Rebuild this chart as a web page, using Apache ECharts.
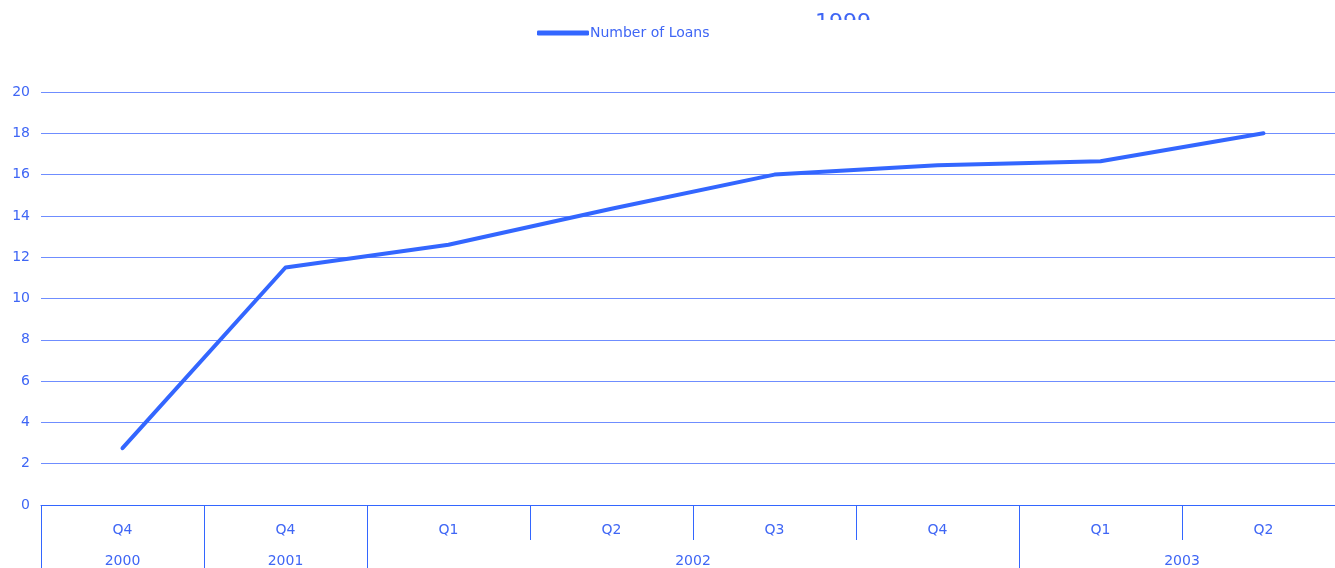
<!DOCTYPE html>
<html>
<head>
<meta charset="utf-8">
<script src="https://cdn.jsdelivr.net/npm/echarts@6/dist/echarts.min.js"></script>
<style>
  html, body { margin: 0; padding: 0; background: #fff; overflow: hidden; }
  /* the plot runs a little past the right edge of the window, as in the original */
  #chart { width: 1345px; height: 568px; }
</style>
</head>
<body>
<div id="chart"></div>
<script>
// data
var quarters = ['Q4', 'Q4', 'Q1', 'Q2', 'Q3', 'Q4', 'Q1', 'Q2']
var loans = [2.75, 11.5, 12.6, 14.35, 16, 16.45, 16.65, 18]
var years = ['2000', '2001', '2002', '2003']
var yearCenters = [0.5, 1.5, 4, 7]      // middle of each year's span of quarters
var yearBounds = [0, 1, 2, 6]           // where each year starts
var yTicks = { min: 0, max: 20, step: 2 }

var textColor = '#3f66f5'
var lineColor = '#3366ff'
var gridColor = '#6f8dff'
var font = 'DejaVu Sans'

var myChart = echarts.init(document.getElementById('chart'))
var option = {
    animation: false,
    textStyle: { fontFamily: font },
    legend: {
        left: 532,
        top: 21,
        data: ['Number of Loans'],
        itemWidth: 52,
        itemHeight: 5,
        icon: 'roundRect',
        textStyle: { color: textColor, fontSize: 14, fontFamily: font, padding: [0, 0, 0, -4] }
    },
    graphic: [
        // the chart's title sits mostly off the top, only its upper edge shows
        { type: 'text', left: 815, top: 12, style: { text: '1999', fill: textColor, font: '22px ' + font } },
        { type: 'rect', shape: { x: 780, y: 20, width: 120, height: 30 }, style: { fill: '#fff' } }
    ],
    grid: { left: 41, right: 0, top: 92, bottom: 63 },
    xAxis: [
        {
            type: 'category',
            position: 'bottom',
            data: quarters,
            axisLine: { show: true, lineStyle: { color: lineColor, width: 1 } },
            axisTick: { show: true, length: 35, interval: 0, lineStyle: { color: lineColor } },
            axisLabel: { color: textColor, fontSize: 14, fontFamily: font, margin: 18, interval: 0 },
            splitLine: { show: false }
        },
        {
            type: 'value',
            position: 'bottom',
            min: 0,
            max: 8,
            axisLine: { show: false },
            axisTick: { show: true, length: 63, customValues: yearBounds, lineStyle: { color: lineColor } },
            axisLabel: {
                color: textColor, fontSize: 14, fontFamily: font, margin: 49,
                customValues: yearCenters,
                formatter: function (v) {
                    var i = yearCenters.indexOf(v)
                    return i >= 0 ? years[i] : ''
                }
            },
            splitLine: { show: false }
        }
    ],
    yAxis: {
        type: 'value',
        min: yTicks.min,
        max: yTicks.max,
        interval: yTicks.step,
        axisLine: { show: false },
        axisTick: { show: false },
        axisLabel: { color: textColor, fontSize: 14, fontFamily: font, margin: 11 },
        splitLine: { show: true, lineStyle: { color: gridColor, width: 1 } }
    },
    series: [
        {
            name: 'Number of Loans',
            type: 'line',
            xAxisIndex: 0,
            data: loans,
            symbol: 'none',
            lineStyle: { color: lineColor, width: 4, cap: 'round', join: 'round' },
            itemStyle: { color: lineColor }
        }
    ]
}
myChart.setOption(option)
</script>
</body>
</html>
